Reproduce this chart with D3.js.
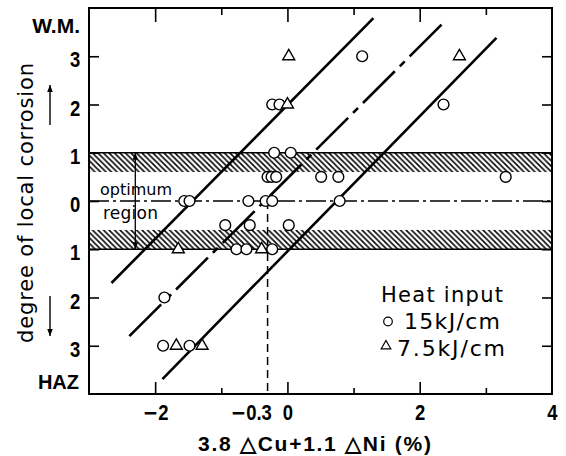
<!DOCTYPE html>
<html>
<head>
<meta charset="utf-8">
<script src="https://cdn.jsdelivr.net/npm/d3@7"></script>
<style>
  body { margin: 0; background: #fff; }
  svg { display: block; }
  .num { font-family: "Liberation Sans", Arial, sans-serif; font-weight: bold; }
  .txt { font-family: "DejaVu Sans", sans-serif; }
</style>
</head>
<body>
<div id="chart"></div>
<script>
// tick values and labels
var xTickValues = [ -2, -0.3, 0, 2, 4 ];
var xTickLabels = [ '\u22122', '\u22120.3', '0', '2', '4' ];
var xMinorTicks = [ -1, 1, 3 ];
var yTickValues = [ 3, 2, 1, 0, -1, -2, -3 ];
var yTickLabels = [ '3', '2', '1', '0', '1', '2', '3' ];

// measured points: [ 3.8dCu+1.1dNi, degree ] (W.M. positive, HAZ negative)
var heat15 = [
    [ 1.13, 3 ],
    [ -0.23, 2 ], [ -0.12, 2 ], [ 2.36, 2 ],
    [ -0.2, 1 ], [ 0.05, 1 ],
    [ -0.3, 0.5 ], [ -0.24, 0.5 ], [ -0.17, 0.5 ], [ 0.51, 0.5 ], [ 0.77, 0.5 ], [ 3.3, 0.5 ],
    [ -1.56, 0 ], [ -1.48, 0 ], [ -0.59, 0 ], [ -0.33, 0 ], [ -0.23, 0 ], [ 0.79, 0 ],
    [ -0.94, -0.5 ], [ -0.57, -0.5 ], [ 0.02, -0.5 ],
    [ -0.77, -1 ], [ -0.62, -1 ], [ -0.23, -1 ],
    [ -1.86, -2 ],
    [ -1.88, -3 ], [ -1.48, -3 ]
];
var heat75 = [
    [ 0.02, 3 ], [ 2.6, 3 ],
    [ 0.0, 2 ],
    [ -1.65, -1 ], [ -0.39, -1 ],
    [ -1.68, -3 ], [ -1.29, -3 ]
];

// fitted trend lines
var lineLeft   = [ [ -2.66, -1.70 ], [ 1.30, 3.79 ] ];
var lineMiddle = [ [ -2.39, -2.80 ], [ 2.37, 3.71 ] ];
var lineRight  = [ [ -1.89, -3.69 ], [ 3.16, 3.38 ] ];

// hatched bands and optimum region
var hatchBands = [ [ 0.6, 1 ], [ -1, -0.6 ] ];
var optimumRange = [ -1, 1 ];
var optimumArrowX = -2.3;
var criticalX = -0.3;

var chart_width  = 566;
var chart_height = 456;

var svg = d3.select( '#chart' )
    .append( 'svg' )
    .attr( 'width', chart_width )
    .attr( 'height', chart_height );

var scale_x = d3.scaleLinear().domain([ -3, 4 ]).range([ 89, 552 ]);
var scale_y = d3.scaleLinear().domain([ -4, 4 ]).range([ 394, 8 ]);

// hatch pattern
var defs = svg.append( 'defs' );
defs.append( 'pattern' )
    .attr( 'id', 'hatch' )
    .attr( 'patternUnits', 'userSpaceOnUse' )
    .attr( 'width', 5.5 )
    .attr( 'height', 5.5 )
    .append( 'path' )
    .attr( 'd', 'M0,0 L5.5,5.5 M-1,4.5 L1,6.5 M4.5,-1 L6.5,1' )
    .attr( 'stroke', '#000' )
    .attr( 'stroke-width', 1.5 );

defs.append( 'marker' )
    .attr( 'id', 'arrow' )
    .attr( 'viewBox', '0 0 10 10' )
    .attr( 'refX', 10 )
    .attr( 'refY', 5 )
    .attr( 'markerWidth', 7 )
    .attr( 'markerHeight', 7 )
    .attr( 'markerUnits', 'userSpaceOnUse' )
    .attr( 'orient', 'auto-start-reverse' )
    .append( 'path' )
    .attr( 'd', 'M0,1 L10,5 L0,9 Z' )
    .attr( 'fill', '#000' );

// bands
svg.append( 'g' )
    .selectAll( 'rect' )
    .data( hatchBands )
    .enter()
    .append( 'rect' )
    .attr( 'x', scale_x(-3) )
    .attr( 'width', scale_x(4) - scale_x(-3) )
    .attr( 'y', function(d){ return scale_y(d[1]); } )
    .attr( 'height', function(d){ return scale_y(d[0]) - scale_y(d[1]); } )
    .attr( 'fill', 'url(#hatch)' );

svg.append( 'g' )
    .selectAll( 'line' )
    .data( optimumRange )
    .enter()
    .append( 'line' )
    .attr( 'x1', scale_x(-3) )
    .attr( 'x2', scale_x(4) )
    .attr( 'y1', function(d){ return scale_y(d); } )
    .attr( 'y2', function(d){ return scale_y(d); } )
    .attr( 'stroke', '#000' )
    .attr( 'stroke-width', 1.5 );

// zero line (dash-dot)
svg.append( 'line' )
    .attr( 'x1', scale_x(-3) )
    .attr( 'x2', scale_x(4) )
    .attr( 'y1', scale_y(0) )
    .attr( 'y2', scale_y(0) )
    .attr( 'stroke', '#000' )
    .attr( 'stroke-width', 1.3 )
    .attr( 'stroke-dasharray', '20,4,3,4' );

// critical composition (dashed)
svg.append( 'line' )
    .attr( 'x1', scale_x(criticalX) )
    .attr( 'x2', scale_x(criticalX) )
    .attr( 'y1', scale_y(0) )
    .attr( 'y2', scale_y(-4) )
    .attr( 'stroke', '#000' )
    .attr( 'stroke-width', 1.5 )
    .attr( 'stroke-dasharray', '8,5' );

// optimum arrow
svg.append( 'line' )
    .attr( 'x1', scale_x(optimumArrowX) )
    .attr( 'x2', scale_x(optimumArrowX) )
    .attr( 'y1', scale_y(optimumRange[1]) )
    .attr( 'y2', scale_y(optimumRange[0]) )
    .attr( 'stroke', '#000' )
    .attr( 'stroke-width', 1.3 )
    .attr( 'marker-start', 'url(#arrow)' )
    .attr( 'marker-end', 'url(#arrow)' );

svg.append( 'text' )
    .attr( 'class', 'txt' )
    .attr( 'x', 100 ).attr( 'y', 195 )
    .attr( 'font-size', 16 )
    .attr( 'textLength', 72 )
    .text( 'optimum' );
svg.append( 'text' )
    .attr( 'class', 'txt' )
    .attr( 'x', 103 ).attr( 'y', 219 )
    .attr( 'font-size', 17 )
    .attr( 'textLength', 55 )
    .text( 'region' );

// trend lines
var line = d3.line()
    .x(function(d){ return scale_x(d[0]); })
    .y(function(d){ return scale_y(d[1]); });

svg.append( 'path' ).datum( lineLeft )
    .attr( 'd', line ).attr( 'fill', 'none' )
    .attr( 'stroke', '#000' ).attr( 'stroke-width', 2.6 );
svg.append( 'path' ).datum( lineMiddle )
    .attr( 'd', line ).attr( 'fill', 'none' )
    .attr( 'stroke', '#000' ).attr( 'stroke-width', 2.6 )
    .attr( 'stroke-dasharray', '45,7,7,7' );
svg.append( 'path' ).datum( lineRight )
    .attr( 'd', line ).attr( 'fill', 'none' )
    .attr( 'stroke', '#000' ).attr( 'stroke-width', 2.6 );

// axes
function styleAxis(g) {
    g.select( '.domain' ).remove();
    g.selectAll( '.tick line' ).attr( 'stroke', '#000' ).attr( 'stroke-width', 1.6 );
}

// narrow the bold digits like the condensed face of the original
function narrowNumbers(g) {
    g.selectAll( 'text' )
        .attr( 'class', 'num' )
        .attr( 'font-size', 22 )
        .attr( 'fill', '#000' )
        .attr( 'transform', 'scale(0.84,1)' );
}

var axis_left = d3.axisLeft( scale_y )
    .tickValues( yTickValues )
    .tickFormat(function(d, i){ return yTickLabels[i]; })
    .tickSize( -10 )
    .tickPadding( 10.5 );
svg.append( 'g' )
    .attr( 'transform', 'translate(' + scale_x(-3) + ',0)' )
    .call( axis_left )
    .call( styleAxis )
    .call( narrowNumbers )
    .call(function(g){ g.selectAll( 'text' ).attr( 'dy', '0.48em' ); });

svg.append( 'g' )
    .attr( 'transform', 'translate(' + scale_x(4) + ',0)' )
    .call( d3.axisRight( scale_y ).tickValues( yTickValues ).tickSize( -10 ).tickFormat( '' ) )
    .call( styleAxis );

var axis_bottom = d3.axisBottom( scale_x )
    .tickValues( xTickValues )
    .tickFormat(function(d, i){ return xTickLabels[i]; })
    .tickSize( -12 )
    .tickPadding( 10 );
svg.append( 'g' )
    .attr( 'transform', 'translate(0,' + scale_y(-4) + ')' )
    .call( axis_bottom )
    .call( styleAxis )
    .call( narrowNumbers )
    .call(function(g){
        g.selectAll( '.tick' ).filter(function(d){ return d === criticalX || d === 4; })
            .select( 'line' ).remove();
        g.selectAll( 'text' )
            .each(function(d){
                var t = d3.select( this ), s = t.text();
                if ( d === criticalX ) t.attr( 'dx', -20 );
                if ( s.charAt(0) === '\u2212' ) {
                    t.text( null );
                    t.append( 'tspan' ).style( 'font-family', '"DejaVu Sans"' ).text( '\u2212' );
                    t.append( 'tspan' ).text( s.slice(1) );
                }
            });
    });

svg.append( 'g' )
    .attr( 'transform', 'translate(0,' + scale_y(-4) + ')' )
    .call( d3.axisBottom( scale_x ).tickValues( xMinorTicks ).tickSize( -6 ).tickFormat( '' ) )
    .call( styleAxis );

svg.append( 'g' )
    .attr( 'transform', 'translate(0,' + scale_y(4) + ')' )
    .call( d3.axisTop( scale_x ).tickValues([ -2, 0, 2 ]).tickSize( -14 ).tickFormat( '' ) )
    .call( styleAxis );
svg.append( 'g' )
    .attr( 'transform', 'translate(0,' + scale_y(4) + ')' )
    .call( d3.axisTop( scale_x ).tickValues( xMinorTicks ).tickSize( -7 ).tickFormat( '' ) )
    .call( styleAxis );

// frame
svg.append( 'rect' )
    .attr( 'x', scale_x(-3) )
    .attr( 'y', scale_y(4) )
    .attr( 'width', scale_x(4) - scale_x(-3) )
    .attr( 'height', scale_y(-4) - scale_y(4) )
    .attr( 'fill', 'none' )
    .attr( 'stroke', '#000' )
    .attr( 'stroke-width', 2 );

// points
svg.append( 'g' )
    .selectAll( 'circle' )
    .data( heat15 )
    .enter()
    .append( 'circle' )
    .attr( 'cx', function(d){ return scale_x(d[0]); } )
    .attr( 'cy', function(d){ return scale_y(d[1]); } )
    .attr( 'r', 5.4 )
    .attr( 'fill', '#fff' )
    .attr( 'stroke', '#000' )
    .attr( 'stroke-width', 1.4 );

var triangle = d3.symbol().type( d3.symbolTriangle ).size( 62 );
svg.append( 'g' )
    .selectAll( 'path' )
    .data( heat75 )
    .enter()
    .append( 'path' )
    .attr( 'd', triangle )
    .attr( 'transform', function(d){
        return 'translate(' + scale_x(d[0]) + ',' + scale_y(d[1]) + ')';
    })
    .attr( 'fill', '#fff' )
    .attr( 'stroke', '#000' )
    .attr( 'stroke-width', 1.4 );

// end labels of the y axis
svg.append( 'text' ).attr( 'class', 'num' )
    .attr( 'x', 80 ).attr( 'y', 33 )
    .attr( 'text-anchor', 'end' )
    .attr( 'font-size', 21 )
    .text( 'W.M.' );
svg.append( 'text' ).attr( 'class', 'num' )
    .attr( 'x', 79 ).attr( 'y', 389 )
    .attr( 'text-anchor', 'end' )
    .attr( 'font-size', 20 )
    .text( 'HAZ' );

// axis titles
svg.append( 'text' ).attr( 'class', 'txt' )
    .attr( 'transform', 'translate(33,203) rotate(-90)' )
    .attr( 'text-anchor', 'middle' )
    .attr( 'font-size', 21 )
    .attr( 'textLength', 280 )
    .text( 'degree of local corrosion' );

svg.append( 'line' )
    .attr( 'x1', 50 ).attr( 'x2', 50 ).attr( 'y1', 125 ).attr( 'y2', 85 )
    .attr( 'stroke', '#000' ).attr( 'stroke-width', 1.4 )
    .attr( 'marker-end', 'url(#arrow)' );
svg.append( 'line' )
    .attr( 'x1', 50 ).attr( 'x2', 50 ).attr( 'y1', 296 ).attr( 'y2', 336 )
    .attr( 'stroke', '#000' ).attr( 'stroke-width', 1.4 )
    .attr( 'marker-end', 'url(#arrow)' );

svg.append( 'text' ).attr( 'class', 'num' )
    .attr( 'x', 198 ).attr( 'y', 451 )
    .attr( 'font-size', 21 )
    .attr( 'textLength', 233 )
    .text( '3.8 \u25B3Cu+1.1 \u25B3Ni (%)' );

// legend
var legend = svg.append( 'g' ).attr( 'transform', 'translate(381,302)' );
legend.append( 'text' ).attr( 'class', 'txt' )
    .attr( 'font-size', 21 ).attr( 'textLength', 122 )
    .text( 'Heat input' );
legend.append( 'circle' )
    .attr( 'cx', 7 ).attr( 'cy', 19.5 ).attr( 'r', 4.3 )
    .attr( 'fill', '#fff' ).attr( 'stroke', '#000' ).attr( 'stroke-width', 1.2 );
legend.append( 'text' ).attr( 'class', 'txt' )
    .attr( 'x', 23 ).attr( 'y', 27 )
    .attr( 'font-size', 22 ).attr( 'textLength', 96 )
    .text( '15kJ/cm' );
legend.append( 'path' )
    .attr( 'd', d3.symbol().type( d3.symbolTriangle ).size( 40 ) )
    .attr( 'transform', 'translate(5,44)' )
    .attr( 'fill', '#fff' ).attr( 'stroke', '#000' ).attr( 'stroke-width', 1.2 );
legend.append( 'text' ).attr( 'class', 'txt' )
    .attr( 'x', 16 ).attr( 'y', 54 )
    .attr( 'font-size', 22 ).attr( 'textLength', 108 )
    .text( '7.5kJ/cm' );
</script>
</body>
</html>
